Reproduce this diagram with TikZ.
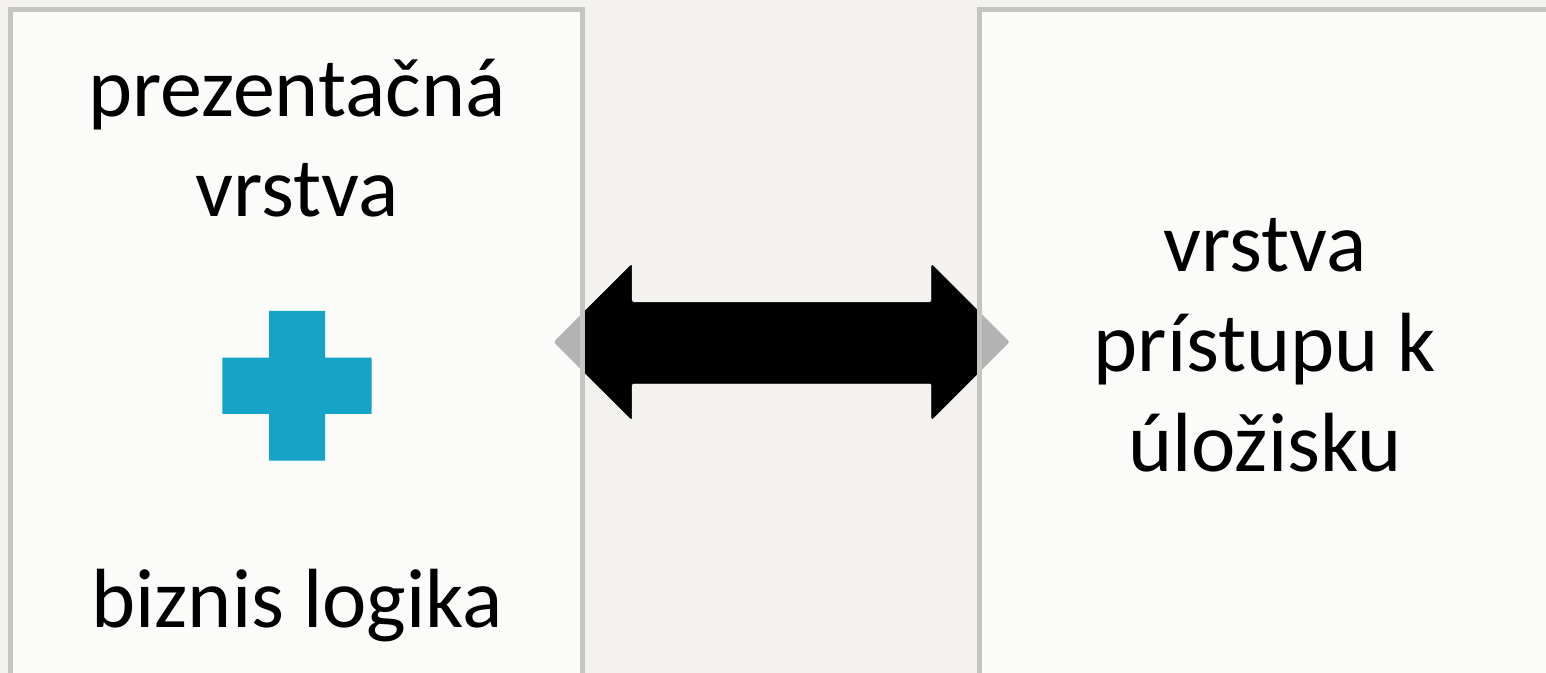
\documentclass[tikz,border=0pt]{standalone}
\usepackage{fontspec}
\setmainfont{Carlito}
\definecolor{pagebg}{HTML}{F3F2EE}
\definecolor{boxline}{HTML}{C4C4C0}
\definecolor{pluscyan}{HTML}{15A3C7}
\tikzset{
  layerbox/.style={draw=boxline, line width=3.75pt, fill=white, fill opacity=0.7, draw opacity=1, minimum width=429pt, minimum height=517.5pt, inner sep=0pt},
  layertext/.style={anchor=base, inner sep=0pt, font=\fontsize{63}{75}\selectfont},
}

\begin{document}
\begin{tikzpicture}[x=0.75pt,y=0.75pt,yscale=-1,xscale=1]
        \clip (0,0) rectangle (1546,673);
        %Shape: Background
        \fill [pagebg] (0,0) rectangle (1546,673);
        
        %Shape: Double Arrow
        \draw [fill=black, rounded corners=1.5pt] (554,342) -- (631.7,264.5) -- (631.7,302.3) -- (931.7,302.3) -- (931.7,264.5) -- (1009.2,342) -- (931.7,419.5) -- (931.7,383.3) -- (631.7,383.3) -- (631.7,419.5) -- cycle ;
        
        %Shape: Rectangle
        \node (client) [layerbox] at (296.5,355) {};
        %Shape: Rectangle
        \node (storage) [layerbox] at (1265,355) {};
        
        %Shape: Plus
        \fill [pluscyan] (269,311) -- (325,311) -- (325,357.7) -- (371.7,357.7) -- (371.7,414) -- (325,414) -- (325,460.7) -- (269,460.7) -- (269,414) -- (222.3,414) -- (222.3,357.7) -- (269,357.7) -- cycle ;
        
        % Text Node
        \node (pres1) [layertext] at (297,117) {prezentačná};
        % Text Node
        \node (pres2) [layertext] at (297,217) {vrstva};
        % Text Node
        \node (logic) [layertext] at (297,627) {biznis logika};
        % Text Node
        \node (store1) [layertext] at (1265,272) {vrstva};
        % Text Node
        \node (store2) [layertext] at (1265,372) {prístupu k};
        % Text Node
        \node (store3) [layertext] at (1265,472) {úložisku};
        
\end{tikzpicture}
\end{document}
